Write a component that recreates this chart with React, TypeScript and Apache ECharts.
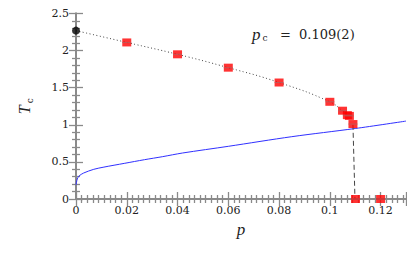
import React, { useEffect, useRef } from "react";
import * as echarts from "echarts";

const xTicks = [0, 0.02, 0.04, 0.06, 0.08, 0.1, 0.12];
const yTicks = [0, 0.5, 1, 1.5, 2, 2.5];

// red squares: [p, Tc]
const squares: number[][] = [
  [0.02, 2.11], [0.04, 1.95], [0.06, 1.77], [0.08, 1.57], [0.1, 1.31],
  [0.105, 1.19], [0.1069, 1.13], [0.1077, 1.12], [0.1091, 1.01],
  [0.1101, 0], [0.12, 0],
];
// exact point at p = 0
const exactPoint: number[][] = [[0, 2.269]];
// dotted fit curve
const fitCurve: number[][] = [
  [0, 2.269], [0.02, 2.11], [0.04, 1.95], [0.06, 1.77], [0.08, 1.57],
  [0.1, 1.31], [0.105, 1.19], [0.107, 1.14],
];
// dashed drop
const dropLine: number[][] = [[0.1091, 1.0], [0.1099, 0]];
// blue curve
const blueCurve: number[][] = [
  [0, 0.19], [0.0005, 0.27], [0.0012, 0.31], [0.003, 0.35], [0.007, 0.4],
  [0.011, 0.43], [0.019, 0.48], [0.027, 0.53], [0.034, 0.57], [0.042, 0.62],
  [0.06, 0.71], [0.085, 0.84], [0.11, 0.95], [0.13, 1.05],
];

const NUM = "DejaVu Serif";
const SERIF = "Liberation Serif";
const AXIS_GRAY = "#8a8a8a";

export default function App() {
  const ref = useRef<HTMLDivElement>(null);
  useEffect(() => {
    const chart = echarts.init(ref.current!, null, { renderer: "svg" });
    const baseX = {
      type: "value" as const,
      min: xTicks[0],
      max: 0.13,
      interval: xTicks[1] - xTicks[0],
      axisLine: { show: true, lineStyle: { color: AXIS_GRAY, width: 2 } },
      axisTick: { show: true, inside: true, length: 7, lineStyle: { color: AXIS_GRAY, width: 1.3 } },
      minorTick: { show: true, splitNumber: 9, length: 4, lineStyle: { color: AXIS_GRAY, width: 1.3 } },
      splitLine: { show: false },
    };
    const baseY = {
      type: "value" as const,
      min: yTicks[0],
      max: yTicks[yTicks.length - 1],
      interval: 0.5,
      axisLine: { show: true, lineStyle: { color: AXIS_GRAY, width: 2 } },
      axisTick: { show: true, inside: true, length: 7, lineStyle: { color: AXIS_GRAY, width: 1.3 } },
      minorTick: { show: true, splitNumber: 5, length: 4, lineStyle: { color: AXIS_GRAY, width: 1.3 } },
      splitLine: { show: false },
    };
    chart.setOption({
      animation: false,
      grid: { left: 64, right: 9, top: 3, bottom: 56, containLabel: false },
      xAxis: [
        {
          ...baseX,
          position: "bottom",
          axisLabel: { show: true, margin: 6, color: "#222", fontFamily: NUM, fontSize: 11, showMaxLabel: false },
          name: "p",
          nameLocation: "middle",
          nameGap: 17,
          nameTextStyle: { fontFamily: SERIF, fontStyle: "italic", fontSize: 17, color: "#222" },
        },
        { ...baseX, position: "top", axisLabel: { show: false } },
      ],
      yAxis: [
        {
          ...baseY,
          position: "left",
          axisLabel: { show: true, margin: 7, color: "#222", fontFamily: NUM, fontSize: 11 },
          name: "{t|T}{c|c}",
          nameLocation: "middle",
          nameGap: 44,
          nameRotate: 90,
          nameTextStyle: {
            rich: {
              t: { fontFamily: SERIF, fontStyle: "italic", fontSize: 16, color: "#222" },
              c: { fontFamily: NUM, fontSize: 9, color: "#222", padding: [0, 0, -12, 2] },
            },
          },
        },
        { ...baseY, position: "right", axisLabel: { show: false } },
      ],
      graphic: [
        {
          type: "text",
          left: 244,
          top: 18,
          style: {
            text: "{p|p}{c|c}{t|   =  0.109(2)}",
            rich: {
              p: { fontFamily: SERIF, fontStyle: "italic", fontSize: 17, fill: "#222" },
              c: { fontFamily: NUM, fontSize: 9, fill: "#222", padding: [6, 0, 0, 2] },
              t: { fontFamily: NUM, fontSize: 13, fill: "#222" },
            },
          },
        },
      ],
      series: [
        {
          type: "line",
          data: blueCurve,
          smooth: 0.3,
          showSymbol: false,
          lineStyle: { color: "#3030ff", width: 1 },
          z: 2,
        },
        {
          type: "line",
          data: fitCurve,
          smooth: true,
          showSymbol: false,
          lineStyle: { color: "#444", width: 1, type: [1, 2.5] },
          z: 3,
        },
        {
          type: "line",
          data: dropLine,
          showSymbol: false,
          lineStyle: { color: "#444", width: 1, type: [5, 3] },
          z: 3,
        },
        {
          type: "scatter",
          data: squares,
          symbol: "rect",
          symbolSize: [9, 8],
          itemStyle: { color: "#ff0000" },
          clip: false,
          z: 4,
        },
        {
          type: "scatter",
          data: squares,
          symbol: "rect",
          symbolSize: [9, 1],
          itemStyle: { color: "#b06060" },
          clip: false,
          z: 5,
        },
        {
          type: "scatter",
          data: exactPoint,
          symbol: "circle",
          symbolSize: 8,
          itemStyle: { color: "#000" },
          clip: false,
          z: 6,
        },
      ],
    });
    return () => chart.dispose();
  }, []);
  return <div ref={ref} style={{ width: 407, height: 247 }} />;
}
